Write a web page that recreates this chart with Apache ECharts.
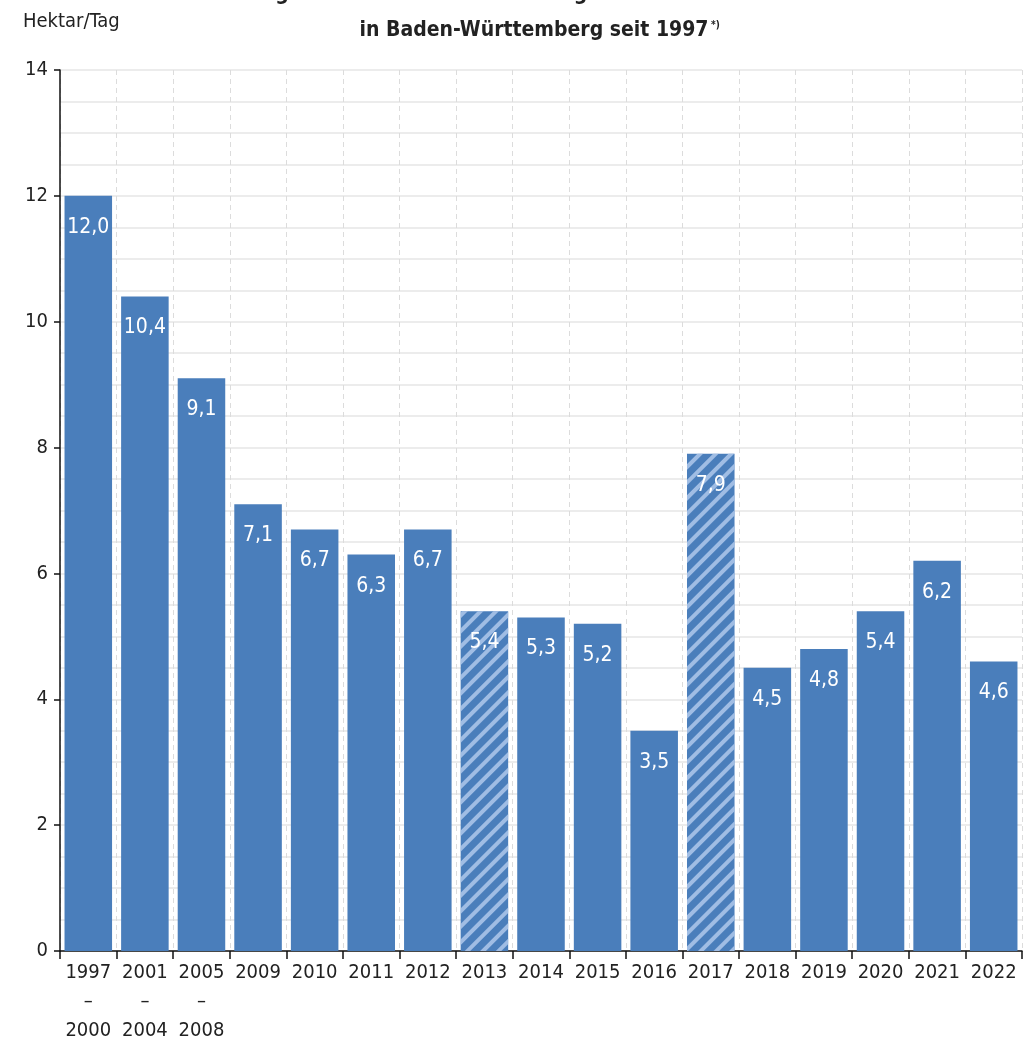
<!DOCTYPE html>
<html><head><meta charset="utf-8">
<script src="https://cdn.jsdelivr.net/npm/echarts@6/dist/echarts.min.js"></script>
<style>html,body{margin:0;padding:0;background:#fff}#c{width:1030px;height:1064px}</style>
</head><body><div id="c"></div>
<script>
const categories = ['1997\n–\n2000','2001\n–\n2004','2005\n–\n2008','2009','2010','2011','2012','2013','2014','2015','2016','2017','2018','2019','2020','2021','2022'];
const values = [12.0,10.4,9.1,7.1,6.7,6.3,6.7,5.4,5.3,5.2,3.5,7.9,4.5,4.8,5.4,6.2,4.6];
const hatched = ['2013','2017'];
const yTicks = [0,2,4,6,8,10,12,14];
const titleLine1 = 'Tägliche Zunahme der Siedlungs- und Verkehrsfläche';
const titleLine2 = 'in Baden-Württemberg seit 1997';
const unitLabel = 'Hektar/Tag';

const FONT = 'DejaVu Sans Condensed';
const barColor = '#4a7ebb';
const decal = {symbol:'rect', symbolSize:1, dashArrayX:[1,0], dashArrayY:[4,7], rotation:-Math.PI/4, color:'rgba(175,200,235,0.85)'};

const chart = echarts.init(document.getElementById('c'), null, {renderer:'canvas'});
chart.setOption({
  animation:false,
  textStyle:{fontFamily:FONT},
  title:[
    {text:titleLine1, left:530, textAlign:'center', top:-21, textStyle:{fontFamily:FONT, fontWeight:'bold', fontSize:21, color:'#222'}},
    {text:titleLine2, left:529, textAlign:'center', top:15, textStyle:{fontFamily:FONT, fontWeight:'bold', fontSize:21, color:'#222'}},
    {text:'*)', left:706, top:15, textStyle:{fontFamily:FONT, fontWeight:'bold', fontSize:10, color:'#222'}},
    {text:unitLabel, left:18, top:7, textStyle:{fontFamily:FONT, fontWeight:'normal', fontSize:20, color:'#222'}}
  ],
  grid:{left:60, right:8, top:70, bottom:113, containLabel:false},
  xAxis:{type:'category', data:categories, boundaryGap:true,
    axisLine:{lineStyle:{color:'#111', width:1.5}},
    axisTick:{show:true, length:8, lineStyle:{color:'#111', width:1.5}, alignWithLabel:false},
    axisLabel:{fontFamily:FONT, fontSize:20, color:'#222', margin:7, lineHeight:29, interval:0},
    splitLine:{show:true, interval:0, lineStyle:{color:'#dcdcdc', type:[5,4]}}
  },
  yAxis:[
    {type:'value', min:0, max:14, interval:2,
      axisLine:{show:true, lineStyle:{color:'#111', width:1.5}},
      axisTick:{show:true, length:6, lineStyle:{color:'#111', width:1.5}},
      axisLabel:{fontFamily:FONT, fontSize:20, color:'#222', margin:12, formatter:v=>yTicks.includes(v)?String(v):''},
      splitLine:{show:false}},
    {type:'value', min:0, max:14, interval:0.5, show:true,
      axisLine:{show:false}, axisTick:{show:false}, axisLabel:{show:false},
      splitLine:{show:true, lineStyle:{color:'#e6e6e6', width:1.5}}}
  ],
  series:[{
    type:'bar', yAxisIndex:0, barCategoryGap:'16%',
    data:values.map((v,i)=>{
      const d={value:v};
      if(hatched.includes(categories[i])) d.itemStyle={color:barColor, decal:decal};
      return d;
    }),
    itemStyle:{color:barColor},
    label:{show:true, position:'insideTop', distance:21, color:'#fff', fontFamily:FONT, fontSize:21,
      formatter:p=>p.value.toFixed(1).replace('.',',')},
    z:3
  }]
});
</script></body></html>
